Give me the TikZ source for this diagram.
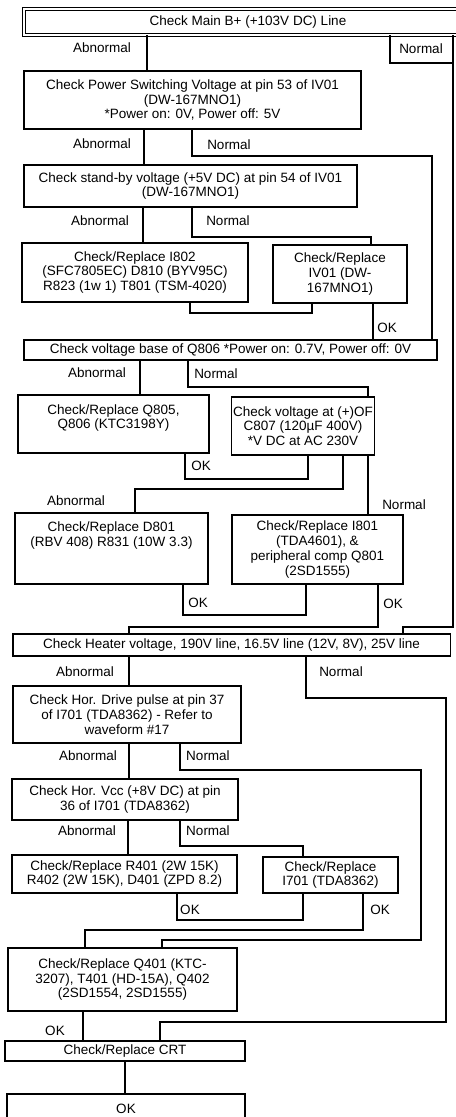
\documentclass[tikz,border=0pt]{standalone}
\usepackage{fontspec}
\setmainfont{Liberation Sans}
\usepackage{tikz}
\usetikzlibrary{positioning, calc}
\tikzset{
    chk_box/.style={
        rectangle, draw=black, line width=0.8pt,
        align=center, inner sep=1pt,
        font=\fontsize{9.6}{10.5}\selectfont
    },
    chk_box_dbl/.style={
        chk_box, double, double distance=1.4pt, line width=0.5pt
    },
    end_box/.style={
        chk_box, line width=1.6pt
    },
    flow_line/.style={
        draw=black, line width=0.8pt
    },
    lbl/.style={
        font=\fontsize{9.6}{10.5}\selectfont, inner sep=1pt
    }
}

\begin{document}
\begin{tikzpicture}[x=0.025cm, y=-0.025cm]
    \useasboundingbox (0,0) rectangle (455,1117);

    % Supply section
    \node[chk_box_dbl, minimum width=11.2cm, minimum height=0.65cm] (main) at (248,22) {Check Main B+ (+103V DC) Line};
    \node[chk_box, minimum width=8.425cm, minimum height=1.45cm] (pws) at (192.5,100) {Check Power Switching Voltage at pin 53 of IV01\\(DW-167MNO1)\\*Power on: 0V, Power off: 5V};
    \node[chk_box, minimum width=8.325cm, minimum height=1.05cm] (sb) at (190.5,186) {Check stand-by voltage (+5V DC) at pin 54 of IV01\\(DW-167MNO1)};
    \node[chk_box, minimum width=5.65cm, minimum height=1.475cm] (i802) at (135,272.5) {Check/Replace I802\\(SFC7805EC) D810 (BYV95C)\\R823 (1w 1) T801 (TSM-4020)};
    \node[chk_box, minimum width=3.35cm, minimum height=1.45cm] (iv01) at (340,274) {Check/Replace\\IV01 (DW-\\167MNO1)};
    \node[chk_box, minimum width=10.325cm, minimum height=0.5cm] (q806) at (230.5,350) {Check voltage base of Q806 *Power on: 0.7V, Power off: 0V};
    \node[chk_box, minimum width=4.775cm, minimum height=1.45cm] (q805) at (113.5,424) {Check/Replace Q805,\\Q806 (KTC3198Y)\\\mbox{}};
    \node[chk_box, minimum width=3.5cm, minimum height=1.45cm] (c807) at (303,426) {Check voltage at (+)OF\\C807 (120µF 400V)\\*V DC at AC 230V};
    \node[chk_box, minimum width=4.825cm, minimum height=1.775cm] (d801) at (111.5,548.5) {Check/Replace D801\\(RBV 408) R831 (10W 3.3)\\\mbox{}\\\mbox{}};
    \node[chk_box, minimum width=4.275cm, minimum height=1.725cm] (i801) at (317.5,549.5) {Check/Replace I801\\(TDA4601), \&\\peripheral comp Q801\\(2SD1555)};

    % Deflection section
    \node[chk_box, minimum width=10.925cm, minimum height=0.55cm] (heat) at (231.5,645) {Check Heater voltage, 190V line, 16.5V line (12V, 8V), 25V line};
    \node[chk_box, minimum width=5.7cm, minimum height=1.425cm] (hdrv) at (127,714.5) {Check Hor. Drive pulse at pin 37\\of I701 (TDA8362) - Refer to\\waveform \#17};
    \node[chk_box, minimum width=5.65cm, minimum height=1.025cm] (vcc) at (125,799.5) {Check Hor. Vcc (+8V DC) at pin\\36 of I701 (TDA8362)};
    \node[chk_box, minimum width=5.625cm, minimum height=0.95cm] (r401) at (124.5,874) {Check/Replace R401 (2W 15K)\\R402 (2W 15K), D401 (ZPD 8.2)};
    \node[chk_box, minimum width=3.375cm, minimum height=0.9cm] (i701) at (330.5,875) {Check/Replace\\I701 (TDA8362)};
    \node[chk_box, minimum width=5.725cm, minimum height=1.575cm] (q401) at (122.5,979.5) {Check/Replace Q401 (KTC-\\3207), T401 (HD-15A), Q402\\(2SD1554, 2SD1555)};
    \node[chk_box, minimum width=6cm, minimum height=0.5cm] (crt) at (125,1051) {Check/Replace CRT};
    \node[end_box, minimum width=5.95cm, minimum height=0.75cm] (okend) at (126,1109) {OK};

    % Labels
    \node[lbl] (lb_main_ab) at (102,48) {Abnormal};
    \node[lbl] (lb_main_no) at (421,49) {Normal};
    \node[lbl] (lb_pws_ab) at (102,144) {Abnormal};
    \node[lbl] (lb_pws_no) at (229,145) {Normal};
    \node[lbl] (lb_sb_ab) at (100,221) {Abnormal};
    \node[lbl] (lb_sb_no) at (228,221) {Normal};
    \node[lbl] (lb_iv_ok) at (387,328) {OK};
    \node[lbl] (lb_q806_ab) at (97,373) {Abnormal};
    \node[lbl] (lb_q806_no) at (216,374) {Normal};
    \node[lbl] (lb_q805_ok) at (201,466) {OK};
    \node[lbl] (lb_c807_ab) at (76,501) {Abnormal};
    \node[lbl] (lb_c807_no) at (404,505) {Normal};
    \node[lbl] (lb_d801_ok) at (198,603) {OK};
    \node[lbl] (lb_i801_ok) at (393,604) {OK};
    \node[lbl] (lb_heat_ab) at (85,672) {Abnormal};
    \node[lbl] (lb_heat_no) at (341,672) {Normal};
    \node[lbl] (lb_hdrv_ab) at (88,756) {Abnormal};
    \node[lbl] (lb_hdrv_no) at (208,756) {Normal};
    \node[lbl] (lb_vcc_ab) at (87,831) {Abnormal};
    \node[lbl] (lb_vcc_no) at (208,831) {Normal};
    \node[lbl] (lb_r401_ok) at (190,910) {OK};
    \node[lbl] (lb_i701_ok) at (380,910) {OK};
    \node[lbl] (lb_q401_ok) at (55,1031) {OK};

    % Connectors
    \draw[flow_line] (main.south -| 147,0) -- (pws.north -| 147,0);
    \draw[flow_line] (main.south -| 390,0) |- (453,63);
    \draw[flow_line] (main.south -| 453,0) -- (453,627) -| (heat.north -| 403,0);
    \draw[flow_line] (pws.south -| 144,0) -- (sb.north -| 144,0);
    \draw[flow_line] (pws.south -| 192,0) |- (432,156) -- (q806.north -| 432,0);
    \draw[flow_line] (sb.south -| 143,0) -- (i802.north -| 143,0);
    \draw[flow_line] (sb.south -| 192,0) |- (371,237) -- (iv01.north -| 371,0);
    \draw[flow_line] (i802.south -| 190,0) |- (312,313) -- (iv01.south -| 312,0);
    \draw[flow_line] (iv01.south -| 373,0) -- (q806.north -| 373,0);
    \draw[flow_line] (q806.south -| 140,0) -- (q805.north -| 140,0);
    \draw[flow_line] (q806.south -| 188,0) |- (368,387) -- (c807.north -| 368,0);
    \draw[flow_line] (q805.south -| 185,0) |- (308,479) -- (c807.south -| 308,0);
    \draw[flow_line] (c807.south -| 343,0) |- (135,489) -- (d801.north -| 135,0);
    \draw[flow_line] (c807.south -| 368,0) -- (i801.north -| 368,0);
    \draw[flow_line] (d801.south -| 183,0) |- (306,615) -- (i801.south -| 306,0);
    \draw[flow_line] (i801.south -| 378,0) |- (129,627) -- (heat.north -| 129,0);
    \draw[flow_line] (heat.south -| 129,0) -- (hdrv.north -| 129,0);
    \draw[flow_line] (heat.south -| 306,0) |- (446,698) -- (446,1022) -| (crt.north -| 160,0);
    \draw[flow_line] (hdrv.south -| 129,0) -- (vcc.north -| 129,0);
    \draw[flow_line] (hdrv.south -| 180,0) |- (421,770) -- (421,940) -| (q401.north -| 162,0);
    \draw[flow_line] (vcc.south -| 128,0) -- (r401.north -| 128,0);
    \draw[flow_line] (vcc.south -| 180,0) |- (303,846) -- (i701.north -| 303,0);
    \draw[flow_line] (r401.south -| 177,0) |- (303,920) -- (i701.south -| 303,0);
    \draw[flow_line] (i701.south -| 363,0) |- (85,930) -- (q401.north -| 85,0);
    \draw[flow_line] (q401.south -| 83,0) -- (crt.north -| 83,0);
    \draw[flow_line] (crt.south -| 125,0) -- (okend.north -| 125,0);
\end{tikzpicture}
\end{document}
